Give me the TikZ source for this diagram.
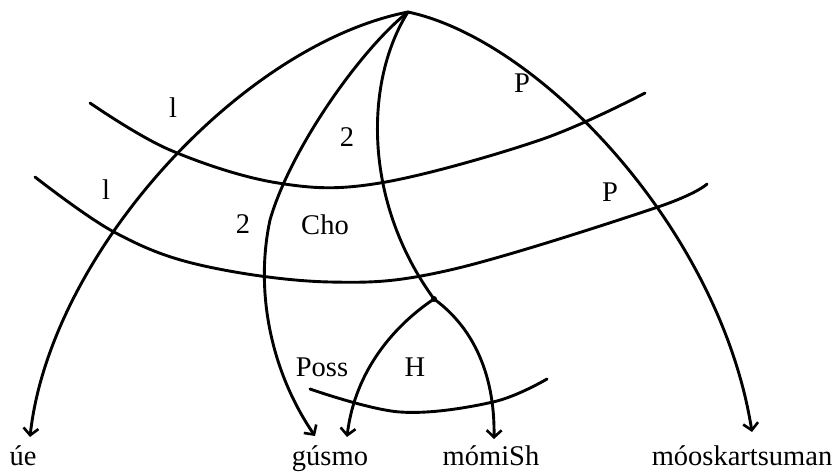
\documentclass[tikz,border=0pt]{standalone}
\usepackage{fontspec}
\setmainfont{Liberation Serif}
\usetikzlibrary{arrows.meta}
\begin{document}
\begin{tikzpicture}[x=1pt,y=-1pt,
  curve/.style={line width=2.9pt, line cap=round, line join=round},
  arr/.style={curve, -{Straight Barb[length=7pt,width=15pt,line width=2.6pt]}},
  lab/.style={inner sep=0pt, font=\fontsize{28.5}{30}\selectfont},
  word/.style={lab, anchor=base}]
\useasboundingbox (0,0) rectangle (836,472);
\coordinate (apex) at (408,12);
\coordinate (hnode) at (434,299);
% words
\node[word] (ue) at (23,465) {úe};
\node[word] (gusmo) at (330,465) {gúsmo};
\node[word] (momish) at (491,465) {mómiSh};
\node[word] (mooskar) at (742,465) {móoskartsuman};
\coordinate (ueT) at (30,437);
\coordinate (gusT) at (315,436);
\coordinate (possT) at (347,437);
\coordinate (momT) at (494,439);
\coordinate (mooT) at (752,432);
\coordinate (gmid) at (270,220);
% radial curves
\draw[arr] (apex) .. controls (240,45) and (50,255) .. (ueT);
\draw[arr] (apex) .. controls (360,50) and (290,150) .. (gmid) .. controls (255,290) and (270,370) .. (gusT);
\draw[curve] (apex) .. controls (365,80) and (362,200) .. (hnode);
\draw[arr] (apex) .. controls (540,40) and (720,230) .. (mooT);
% from H node
\draw[arr] (hnode) .. controls (395,325) and (355,370) .. (possT);
\draw[arr] (hnode) .. controls (470,325) and (495,370) .. (momT);
\fill (hnode) circle (3pt);
% bands
\draw[curve] plot[smooth,tension=0.6] coordinates {(90,103) (170,150) (278,183) (380,183) (540,140) (645,93)};
\draw[curve] plot[smooth,tension=0.6] coordinates {(35,177) (114,232) (200,265) (330,282) (450,270) (655,208) (707,184)};
\draw[curve] plot[smooth,tension=0.6] coordinates {(310,389) (400,412) (493,402) (547,379)};
% labels
\node[lab] (l1a) at (173,108) {l};
\node[lab] (l1b) at (106,190) {l};
\node[lab] (l2a) at (347,137) {2};
\node[lab] (l2b) at (243,224) {2};
\node[lab] (cho) at (325,225) {Cho};
\node[lab] (p1) at (522,83) {P};
\node[lab] (p2) at (610,192) {P};
\node[lab] (poss) at (322,367) {Poss};
\node[lab] (h) at (415,367) {H};
\end{tikzpicture}
\end{document}
